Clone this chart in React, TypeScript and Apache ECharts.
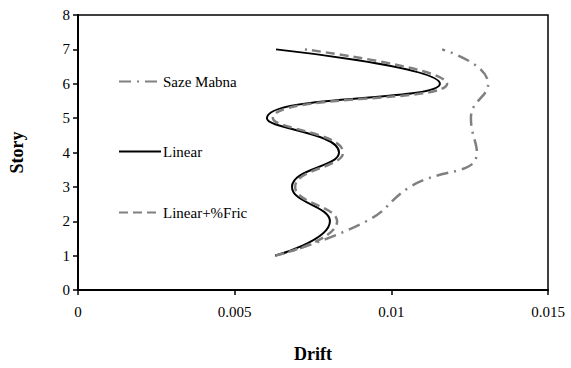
import React, { useEffect, useRef } from "react";
import * as echarts from "echarts";

const stories = [1, 2, 3, 4, 5, 6, 7];
const sazeMabna = [0.0063, 0.0092, 0.0106, 0.01273, 0.01254, 0.01309, 0.01162];
const linear = [0.00629, 0.00804, 0.00683, 0.00833, 0.00603, 0.01155, 0.00632];
const linearFric = [0.0063, 0.00827, 0.00693, 0.00846, 0.00622, 0.01178, 0.00724];
const seriesNames = ["Saze Mabna", "Linear", "Linear+%Fric"];

const pairs = (xs: number[]) => xs.map((x, i) => [x, stories[i]]);

export default function App() {
  const ref = useRef<HTMLDivElement>(null);
  useEffect(() => {
    const chart = echarts.init(ref.current!, null, { renderer: "svg" });
    const font = "Liberation Serif";
    const legendBase = {
      orient: "vertical" as const,
      left: 118,
      itemWidth: 42,
      itemHeight: 10,
      itemGap: 2,
      itemStyle: { opacity: 0 },
      textStyle: { fontFamily: font, fontSize: 15, color: "#000", padding: [0, 0, 0, -3] },
      padding: 0,
    };
    chart.setOption({
      animation: false,
      backgroundColor: "#fff",
      textStyle: { fontFamily: font },
      grid: {
        left: 78,
        right: 23,
        top: 15,
        bottom: 71,
        show: true,
        borderColor: "#000",
        borderWidth: 1.5,
      },
      legend: [
        { ...legendBase, top: 74, data: [seriesNames[0]] },
        { ...legendBase, top: 144, data: [seriesNames[1]] },
        { ...legendBase, top: 205, data: [seriesNames[2]] },
      ],
      xAxis: {
        type: "value",
        min: 0,
        max: 0.015,
        interval: 0.005,
        name: "Drift",
        nameLocation: "middle",
        nameGap: 55,
        nameTextStyle: { fontFamily: font, fontSize: 18, fontWeight: "bold", color: "#000" },
        axisLine: { show: true, lineStyle: { color: "#000", width: 2 } },
        axisTick: { show: true, length: 5, lineStyle: { color: "#000", width: 1.5 } },
        axisLabel: { fontFamily: font, fontSize: 15, color: "#000", margin: 14 },
        splitLine: { show: false },
      },
      yAxis: {
        type: "value",
        min: 0,
        max: 8,
        interval: 1,
        name: "Story",
        nameLocation: "middle",
        nameGap: 52,
        nameTextStyle: { fontFamily: font, fontSize: 18, fontWeight: "bold", color: "#000" },
        axisLine: { show: true, lineStyle: { color: "#000", width: 2 } },
        axisTick: { show: true, length: 5, lineStyle: { color: "#000", width: 1.5 } },
        axisLabel: { fontFamily: font, fontSize: 15, color: "#000", margin: 8 },
        splitLine: { show: false },
      },
      series: [
        {
          name: seriesNames[0],
          type: "line",
          data: pairs(sazeMabna),
          smooth: 0.5,
          symbol: "none",
          lineStyle: { color: "#808080", width: 2.5, type: [12, 6, 2, 6] },
          itemStyle: { color: "#808080" },
        },
        {
          name: seriesNames[1],
          type: "line",
          data: pairs(linear),
          smooth: 0.5,
          symbol: "none",
          lineStyle: { color: "#000", width: 2 },
          itemStyle: { color: "#000" },
        },
        {
          name: seriesNames[2],
          type: "line",
          data: pairs(linearFric),
          smooth: 0.5,
          symbol: "none",
          lineStyle: { color: "#808080", width: 2.5, type: [9, 5] },
          itemStyle: { color: "#808080" },
        },
      ],
    });
    return () => chart.dispose();
  }, []);
  return (
    <div
      ref={ref}
      style={{ position: "fixed", left: 0, top: 0, width: 571, height: 368 }}
    />
  );
}
